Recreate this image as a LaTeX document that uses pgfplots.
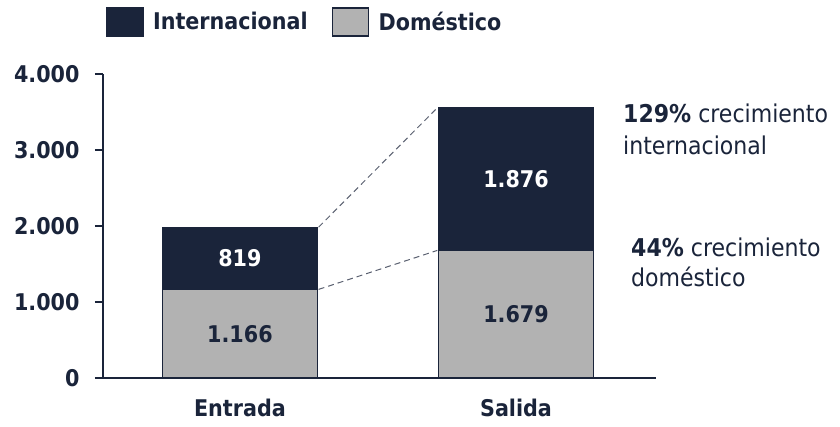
\documentclass[border=0pt]{standalone}
\usepackage{pgfplots}
\pgfplotsset{compat=1.18}
\usepackage{fontspec}
\setmainfont{DejaVu Sans Condensed}
\definecolor{navy}{HTML}{1A243A}
\definecolor{grisb}{HTML}{B2B2B2}
\definecolor{dashc}{HTML}{5A6070}
\begin{document}
\begin{tikzpicture}[font=\fontsize{23bp}{27bp}\selectfont, text=navy]
\useasboundingbox (-103bp,-49bp) rectangle (737bp,378bp);
\begin{axis}[
  at={(0,0)}, anchor=south west,
  scale only axis, width=553bp, height=304bp,
  xmin=-0.496, xmax=1.507, ymin=0, ymax=4000,
  ybar stacked, bar width=155bp,
  axis lines*=left,
  axis line style={navy, line width=2bp},
  xtick={0,1}, xticklabels={Entrada,Salida},
  ytick={0,1000,2000,3000,4000},
  yticklabels={0,1.000,2.000,3.000,4.000},
  tick align=outside, major tick length=8bp,
  x tick style={draw=none},
  y tick style={navy, line width=2bp},
  ticklabel style={font=\fontsize{23bp}{27bp}\selectfont\bfseries, text=navy},
  yticklabel style={xshift=-12bp},
  xticklabel style={yshift=-10bp},
  legend columns=2,
  legend style={draw=none, fill=none, at={(rel axis cs:0,1)}, anchor=west, yshift=52bp,
     font=\fontsize{23bp}{27bp}\selectfont\bfseries, text=navy,
     /tikz/every even column/.append style={column sep=22bp}},
  legend cell align=left,
  legend image code/.code={\draw[#1, line width=1.5bp] (0bp,-14bp) rectangle (36bp,14bp); \path (44bp,0bp);},
  clip=false,
]
\addlegendimage{fill=navy, draw=navy}
\addlegendentry{Internacional}
\addlegendimage{fill=grisb, draw=navy}
\addlegendentry{Doméstico}
\addplot[fill=grisb, draw=navy, line width=1.2bp, forget plot] coordinates {(0,1166) (1,1679)};
\addplot[fill=navy, draw=navy, line width=1.2bp, forget plot] coordinates {(0,819) (1,1876)};
\draw[dashc, line width=1bp, dash pattern=on 6bp off 4bp] (axis cs:0.285,1985) -- (axis cs:0.715,3555);
\draw[dashc, line width=1bp, dash pattern=on 6bp off 4bp] (axis cs:0.285,1166) -- (axis cs:0.715,1679);
\coordinate (l1) at (axis cs:0,1575);
\coordinate (l2) at (axis cs:0,583);
\coordinate (l3) at (axis cs:1,2617);
\coordinate (l4) at (axis cs:1,840);
\end{axis}
\node[text=white, font=\fontsize{23bp}{27bp}\selectfont\bfseries] at (l1) {819};
\node[text=navy, font=\fontsize{23bp}{27bp}\selectfont\bfseries] at (l2) {1.166};
\node[text=white, font=\fontsize{23bp}{27bp}\selectfont\bfseries] at (l3) {1.876};
\node[text=navy, font=\fontsize{23bp}{27bp}\selectfont\bfseries] at (l4) {1.679};
\begin{scope}[font=\fontsize{24.5bp}{28bp}\selectfont]
\node[anchor=base west, inner sep=0pt] at (520bp,255bp) {\textbf{129\%} crecimiento};
\node[anchor=base west, inner sep=0pt] at (520bp,223bp) {internacional};
\node[anchor=base west, inner sep=0pt] at (528bp,121bp) {\textbf{44\%} crecimiento};
\node[anchor=base west, inner sep=0pt] at (528bp,91bp) {doméstico};
\end{scope}
\end{tikzpicture}
\end{document}
